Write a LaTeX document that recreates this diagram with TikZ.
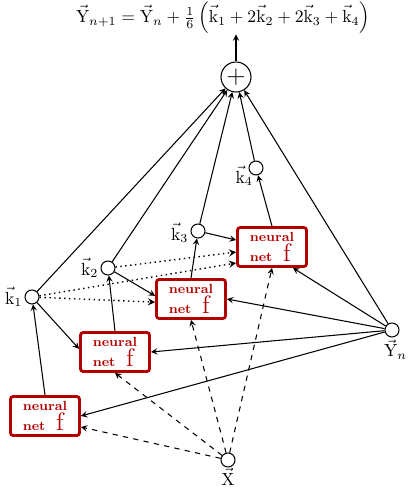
\documentclass[tikz,border=0pt]{standalone}
\usepackage{amsmath}
\begin{document}
\begin{tikzpicture}[>=stealth, x=0.02cm, y=-0.02cm, semithick,
    state/.style={draw, circle, inner sep=0pt, minimum size=0.28cm},
    net/.style={draw=red!70!black, ultra thick, rounded corners=1.5pt, rectangle,
        minimum width=1.38cm, minimum height=0.78cm, align=left, text=red!70!black,
        font=\fontsize{7.5}{9}\selectfont\bfseries, inner sep=2pt}]

        \useasboundingbox (0,0) rectangle (407,488);

        % Define the output formula and the sum
        \node[inner sep=0pt, font=\fontsize{10.3}{12.4}\selectfont] (out) at (223,18) {$\vec{\mathrm{Y}}_{n+1} = \vec{\mathrm{Y}}_n + \frac{1}{6}\left(\vec{\mathrm{k}}_1 + 2\vec{\mathrm{k}}_2 + 2\vec{\mathrm{k}}_3 + \vec{\mathrm{k}}_4\right)$};
        \node[draw, circle, inner sep=0pt, minimum size=0.6cm] (sum) at (236,77) {\Large $+$};

        % Define the inputs
        \node[state, label={[inner sep=1pt, xshift=2pt]below:$\vec{\mathrm{Y}}_n$}] (Y) at (392,330) {};
        \node[state, label={[inner sep=0pt]below:$\vec{\mathrm{X}}$}] (X) at (228,460) {};

        % Define the neural nets
        \node[net] (N1) at (45,416) {neural\\net \ {\mdseries\Large f}};
        \node[net] (N2) at (115,352) {neural\\net \ {\mdseries\Large f}};
        \node[net] (N3) at (191,299) {neural\\net \ {\mdseries\Large f}};
        \node[net] (N4) at (272,247) {neural\\net \ {\mdseries\Large f}};

        % Define the stages
        \node[state, label={[inner sep=1pt]left:$\vec{\mathrm{k}}_1$}] (k1) at (32,297) {};
        \node[state, label={[inner sep=1pt]left:$\vec{\mathrm{k}}_2$}] (k2) at (108,268) {};
        \node[state, label={[inner sep=1pt, yshift=-1pt]left:$\vec{\mathrm{k}}_3$}] (k3) at (198,231) {};
        \node[state, label={[inner sep=0pt, xshift=2pt, yshift=4pt]-145:$\vec{\mathrm{k}}_4$}] (k4) at (256,168) {};

        % Draw arrows from the nets to the stages
        \draw[->] (N1.north) -- (k1);
        \draw[->] (N2.north) -- (k2);
        \draw[->] (N3.north) -- (k3);
        \draw[->] (N4.north) -- (k4);

        % Draw arrows from the stages to the next nets
        \draw[->] (k1) -- (N2.175);
        \draw[->] (k2) -- (N3.175);
        \draw[->] (k3) -- (N4.169);
        \draw[->, dotted, thick] (k1) -- (N3.185);
        \draw[->, dotted, thick] (k2) -- (N4.188);
        \draw[->, dotted, thick] (k1) -- (N4.204);

        % Draw arrows from the inputs to the nets
        \draw[->] (Y) -- (N1.east);
        \draw[->] (Y) -- (N2.east);
        \draw[->] (Y) -- (N3.east);
        \draw[->] (Y) -- (N4.-45);
        \draw[->, dashed] (X) -- (N1.343);
        \draw[->, dashed] (X) -- (N2.south);
        \draw[->, dashed] (X) -- (N3.south);
        \draw[->, dashed] (X) -- (N4.south);

        % Draw arrows to the sum
        \draw[->] (k1) -- (sum);
        \draw[->] (k2) -- (sum);
        \draw[->] (k3) -- (sum);
        \draw[->] (k4) -- (sum);
        \draw[->] (Y) -- (sum);
        \draw[->] (sum) -- (sum |- out.south);

    \end{tikzpicture}
\end{document}
